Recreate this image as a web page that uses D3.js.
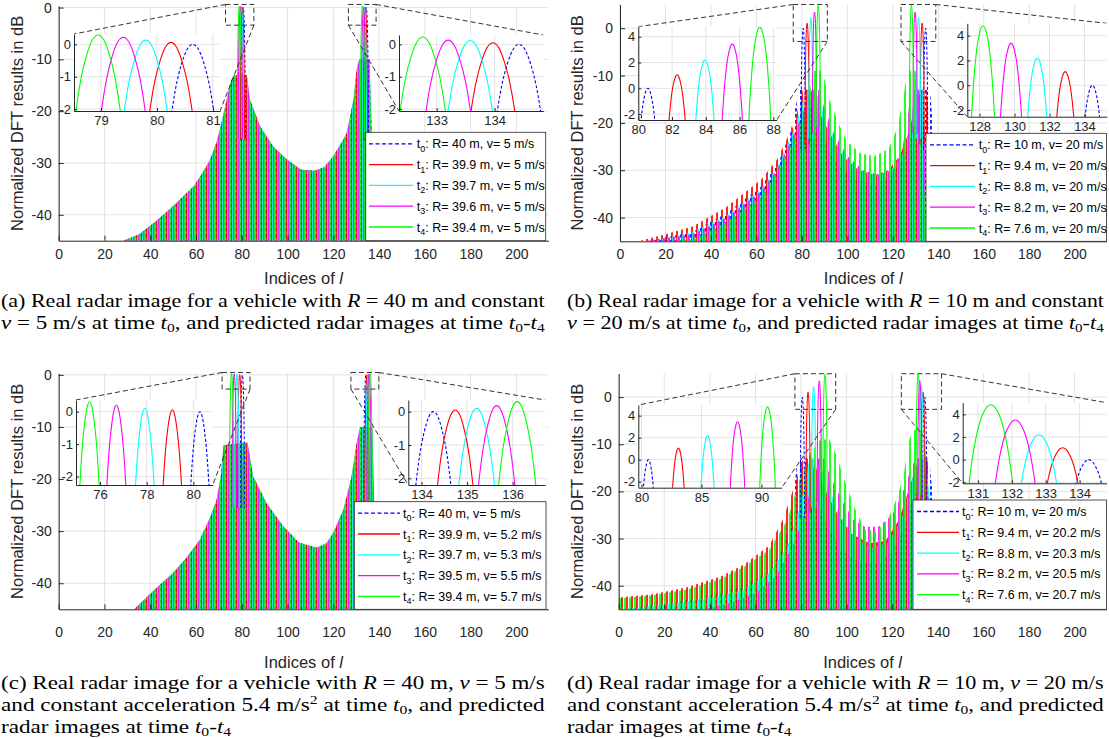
<!DOCTYPE html>
<html>
<head>
<meta charset="utf-8">
<script src="https://cdn.jsdelivr.net/npm/d3@7"></script>
<style>
  body { margin: 0; background: #fff; }
  svg { display: block; }
</style>
</head>
<body>
<svg width="1109" height="739"></svg>
<script>
// ---------- data ----------
const seriesColors = ["#0000ff", "#ff0000", "#00ffff", "#ff00ff", "#00ff00"];
const seriesSub = ["0", "1", "2", "3", "4"];
const xTicks = [0, 20, 40, 60, 80, 100, 120, 140, 160, 180, 200];
const yTicks = [-40, -30, -20, -10, 0];

// shape of one main lobe (index offset, dB below peak)
const lobeOffset = [-0.95, -0.9, -0.8, -0.7, -0.6, -0.5, -0.4, -0.3, -0.2, -0.1, 0, 0.1, 0.2, 0.3, 0.4, 0.5, 0.6, 0.7, 0.8, 0.9, 0.95];
const lobeDrop = [25.6, 19.2, 12.6, 8.7, 5.9, 3.9, 2.4, 1.3, 0.6, 0.15, 0, 0.15, 0.6, 1.3, 2.4, 3.9, 5.9, 8.7, 12.6, 19.2, 25.6];

// (a) R = 40 m, v = 5 m/s
const legendA = ["R= 40 m, v= 5 m/s", "R= 39.9 m, v= 5 m/s", "R= 39.7 m, v= 5 m/s", "R= 39.6 m, v= 5 m/s", "R= 39.4 m, v= 5 m/s"];
const peakLeftA = [80.64, 80.25, 79.8, 79.4, 78.95];
const peakLeftDbA = [0, 0.06, 0.13, 0.22, 0.29];
const peakRightA = [134.42, 133.97, 133.58, 133.2, 132.76];
const peakRightDbA = [0, 0.05, 0.12, 0.13, 0.23];
const bodyA = [[28, -45], [35, -43.8], [40, -42.1], [45, -40.3], [50, -38.3], [55, -36.2], [59, -34.5], [62, -32.5], [66, -29.5], [69, -26], [71, -22.5], [73.4, -17.8], [75, -14.5], [76.5, -13], [82.2, -13], [83.6, -17.8], [88, -22.9], [93.8, -26.8], [99.6, -29.3], [106, -31.3], [112, -31.5], [116, -30.8], [120, -28.7], [123, -26.5], [125.9, -24.2], [128.8, -17.8], [130.2, -12], [131.3, -10], [135.8, -10], [136.5, -20], [137.2, -32], [138, -45]];

// (b) R = 10 m, v = 20 m/s
const legendB = ["R= 10 m, v= 20 m/s", "R= 9.4 m, v= 20 m/s", "R= 8.8 m, v= 20 m/s", "R= 8.2 m, v= 20 m/s", "R= 7.6 m, v= 20 m/s"];
const peakLeftB = [80.57, 82.3, 83.95, 85.57, 87.2];
const peakLeftDbB = [0, 1.05, 2.2, 3.43, 4.75];
const peakRightB = [134.45, 132.9, 131.3, 129.8, 128.2];
const peakRightDbB = [0, 1.1, 2.2, 3.4, 4.8];
const bodyB0 = [[12, -45], [32, -43], [47, -39], [62, -33.5], [70, -28], [75, -22], [77.5, -16], [78.8, -13], [82.4, -13], [85, -18], [90, -24], [96, -29], [104, -32], [112, -33], [120, -31], [126, -26], [130, -20], [132.6, -13], [136.3, -13], [138, -22], [140, -45]];
const bodyB1 = [[8, -45], [20, -43.5], [32, -41.9], [47, -37.7], [62, -32], [69, -27.8], [76, -20.8], [79, -16], [80.5, -13], [84.1, -13], [87, -17], [92, -22], [98, -27], [105, -30], [112, -31], [118, -30], [123, -27], [127, -22], [130, -16], [131.1, -13], [134.7, -13], [136.5, -20], [138, -30], [140, -45]];
const bodyB2 = [[14, -45], [32, -43], [47, -39.5], [62, -34], [69, -29.5], [76, -22], [80, -16], [82.1, -13], [85.8, -13], [89, -17], [93, -22], [99, -27], [106, -30], [113, -31], [119, -30], [124, -27], [127, -22], [129, -16], [129.5, -13], [133.1, -13], [134.8, -20], [137, -30], [139, -45]];
const bodyB3 = [[10, -45], [32, -43.5], [47, -40], [62, -34.5], [69, -30], [77, -22], [82, -16], [83.7, -13], [87.4, -13], [90, -17], [94, -22], [100, -27], [107, -30], [114, -31], [120, -30], [124, -26], [126.5, -19], [128, -13], [131.6, -13], [133.5, -20], [136, -30], [138, -45]];
const bodyB4 = [[22, -45], [32, -44.5], [47, -41], [62, -35.5], [69, -30.5], [76, -24], [81, -18], [84, -12], [85.4, -9], [89, -9], [92, -15], [96, -20], [100, -24], [106, -26.5], [112, -27], [118, -25.5], [122, -21], [124.5, -15], [126.5, -9], [130, -9], [131.5, -15], [133, -25], [135, -45]];

// (c) R = 40 m, v = 5 m/s, a = 5.4 m/s^2
const legendC = ["R= 40 m, v= 5 m/s", "R= 39.9 m, v= 5.2 m/s", "R= 39.7 m, v= 5.3 m/s", "R= 39.5 m, v= 5.5 m/s", "R= 39.4 m, v= 5.7 m/s"];
const peakLeftC = [80.28, 79.1, 77.92, 76.7, 75.55];
const peakLeftDbC = [0, 0.05, 0.1, 0.2, 0.3];
const peakRightC = [134.26, 134.74, 135.21, 135.65, 136.1];
const peakRightDbC = [0, 0.05, 0.1, 0.18, 0.3];
const bodyC = [[33, -45], [40, -42], [45, -40], [50, -38], [56, -35], [61.7, -31.6], [66, -27.5], [69, -24], [71, -19], [72, -13.5], [82.5, -13], [85, -19.5], [90.8, -24.6], [98, -29], [105, -32.2], [112.7, -33.2], [117, -32.3], [120, -30.3], [124.4, -25.9], [128, -19.5], [130.2, -13.1], [131.7, -10], [137, -10], [137.6, -20], [138.5, -35], [139.5, -45]];

// (d) R = 10 m, v = 20 m/s, a = 5.4 m/s^2
const legendD = ["R= 10 m, v= 20 m/s", "R= 9.4 m, v= 20.2 m/s", "R= 8.8 m, v= 20.3 m/s", "R= 8.2 m, v= 20.5 m/s", "R= 7.6 m, v= 20.7 m/s"];
const peakLeftD = [80.57, 83.07, 85.5, 88.0, 90.5];
const peakLeftDbD = [0, 1.05, 2.2, 3.45, 4.8];
const peakRightD = [134.27, 133.5, 132.8, 132.1, 131.38];
const peakRightDbD = [0, 1.05, 2.2, 3.5, 4.85];
const bodyD0 = [[0, -45], [20, -44], [40, -42], [55, -40], [66, -37], [72, -32], [76, -24], [78, -15], [78.7, -13], [82.5, -13], [85, -19], [90, -26], [97, -32], [105, -35], [113, -35.5], [120, -33], [126, -27], [130, -20], [132.4, -13], [136.2, -13], [138, -22], [140, -45]];
const bodyD1 = [[0, -42.5], [15, -41.8], [30, -40.3], [45, -38], [55, -35.5], [66, -31.5], [72, -26], [77, -19], [80, -14], [81.2, -13], [85, -13], [89, -18], [95, -24], [102, -29], [110, -31], [117, -30.5], [123, -26], [127, -20], [131, -14], [131.6, -13], [135.4, -13], [137, -20], [139, -45]];
const bodyD2 = [[0, -45], [15, -44.3], [35, -43], [54, -41], [66, -37.3], [74, -31.7], [79, -24], [82, -18], [83.6, -13], [87.4, -13], [91, -18], [97, -25], [104, -30], [111, -32], [118, -31], [124, -26], [128, -19], [130.9, -13], [134.7, -13], [136.5, -22], [138.5, -45]];
const bodyD3 = [[38, -45], [50, -43.5], [60, -41.6], [69, -38], [76, -32], [80, -27], [84, -20], [86.1, -13], [89.9, -13], [93, -17], [98, -22], [103, -26], [108, -27.5], [114, -27.5], [120, -25], [124, -21], [127, -17], [130.2, -13], [134, -13], [136, -22], [138, -45]];
const bodyD4 = [[0, -42.7], [15, -42], [30, -40.8], [45, -38.5], [55, -36], [66, -32.4], [74, -26], [79, -18], [84, -12], [88.5, -9], [92.5, -9], [96, -13], [100, -19], [104, -24], [108, -28], [113, -28.5], [118, -26], [122, -21.5], [125, -16.5], [127.5, -9], [129, -7], [133.5, -7], [135, -14], [137, -25], [139, -45]];

// inset tick labels
const insetXTicksA = [[79, 80, 81], [133, 134]];
const insetXTicksB = [[80, 82, 84, 86, 88], [128, 130, 132, 134]];
const insetXTicksC = [[76, 78, 80], [134, 135, 136]];
const insetXTicksD = [[80, 85, 90], [131, 132, 133, 134]];
const insetYTicksSmall = [-2, -1, 0];
const insetYTicksLarge = [-2, 0, 2, 4];

const captionA = ["(a) Real radar image for a vehicle with *R* = 40 m and constant",
                  "*v* = 5 m/s at time *t*_0, and predicted radar images at time *t*_0-*t*_4"];
const captionB = ["(b) Real radar image for a vehicle with *R* = 10 m and constant",
                  "*v* = 20 m/s at time *t*_0, and predicted radar images at time *t*_0-*t*_4"];
const captionC = ["(c) Real radar image for a vehicle with *R* = 40 m, *v* = 5 m/s",
                  "and constant acceleration 5.4 m/s^2 at time *t*_0, and predicted",
                  "radar images at time *t*_0-*t*_4"];
const captionD = ["(d) Real radar image for a vehicle with *R* = 10 m, *v* = 20 m/s",
                  "and constant acceleration 5.4 m/s^2 at time *t*_0, and predicted",
                  "radar images at time *t*_0-*t*_4"];

// ---------- layout ----------
const panels = [
  { id: "a", left: 58.7, right: 548.4, top: 6, bottom: 240.7, yDomain: [-45, 0.3], tickPad: 8, xLabelY: 284, yLabelX: 17,
    legend: legendA, bodies: [bodyA, bodyA, bodyA, bodyA, bodyA],
    peaksL: peakLeftA, peaksLDb: peakLeftDbA, peaksR: peakRightA, peaksRDb: peakRightDbA,
    insetL: { box: [74, 34, 220, 111], xDomain: [78.52, 81.125], yDomain: [-2.06, 0.32], xTicks: insetXTicksA[0], yTicks: insetYTicksSmall },
    insetR: { box: [399, 35, 543.3, 111], xDomain: [132.35, 134.84], yDomain: [-2.06, 0.29], xTicks: insetXTicksA[1], yTicks: insetYTicksSmall },
    zoomL: [72.9, 85.3, -3.4, 0.6], zoomR: [126.6, 138.7, -3.4, 0.6],
    legendBox: [365.7, 132.3, 545.7, 240.7], legendLine: [369, 413], legendText: 416.7,
    caption: captionA, captionX: [1, 545], captionY: 306.5 },
  { id: "b", left: 620, right: 1106.5, top: 4.5, bottom: 241.3, yDomain: [-45, 5], tickPad: 8, xLabelY: 284, yLabelX: 577,
    legend: legendB, bodies: [bodyB0, bodyB1, bodyB2, bodyB3, bodyB4],
    peaksL: peakLeftB, peaksLDb: peakLeftDbB, peaksR: peakRightB, peaksRDb: peakRightDbB,
    insetL: { box: [638.3, 26.7, 776.7, 120], xDomain: [80, 88.2], yDomain: [-2.46, 4.78], xTicks: insetXTicksB[0], yTicks: insetYTicksLarge },
    insetR: { box: [967.3, 23.3, 1106.7, 116.7], xDomain: [127.3, 135.27], yDomain: [-2.54, 5.0], xTicks: insetXTicksB[1], yTicks: insetYTicksLarge },
    zoomL: [76.2, 91.2, -2.8, 5], zoomR: [123.6, 138.9, -2.8, 5],
    legendBox: [926, 133.3, 1106.5, 241.3], legendLine: [930, 975], legendText: 978.7,
    caption: captionB, captionX: [567, 1104], captionY: 306.5 },
  { id: "c", left: 58.7, right: 548.4, top: 373.3, bottom: 609.3, yDomain: [-45, 0.3], tickPad: 18, xLabelY: 668, yLabelX: 17,
    legend: legendC, bodies: [bodyC, bodyC, bodyC, bodyC, bodyC],
    peaksL: peakLeftC, peaksLDb: peakLeftDbC, peaksR: peakRightC, peaksRDb: peakRightDbC,
    insetL: { box: [76, 400, 212.7, 485], xDomain: [74.97, 80.83], yDomain: [-2.26, 0.36], xTicks: insetXTicksC[0], yTicks: insetYTicksSmall },
    insetR: { box: [408.3, 400, 545, 485], xDomain: [133.71, 136.71], yDomain: [-2.2, 0.35], xTicks: insetXTicksC[1], yTicks: insetYTicksSmall },
    zoomL: [71.4, 83.6, -2.73, 0.46], zoomR: [127.7, 139.9, -2.73, 0.46],
    legendBox: [354.3, 501.7, 546, 609.3], legendLine: [358, 400], legendText: 403,
    caption: captionC, captionX: [1, 545], captionY: 688.5 },
  { id: "d", left: 618.7, right: 1106.5, top: 373.5, bottom: 609.3, yDomain: [-45, 5], tickPad: 18, xLabelY: 668, yLabelX: 577,
    legend: legendD, bodies: [bodyD0, bodyD1, bodyD2, bodyD3, bodyD4],
    peaksL: peakLeftD, peaksLDb: peakLeftDbD, peaksR: peakRightD, peaksRDb: peakRightDbD,
    insetL: { box: [638.3, 405, 781.7, 487.7], xDomain: [79.73, 91.68], yDomain: [-2.55, 4.97], xTicks: insetXTicksD[0], yTicks: insetYTicksLarge },
    insetR: { box: [962.7, 402.7, 1106.7, 483.3], xDomain: [130.55, 134.8], yDomain: [-2.09, 5.03], xTicks: insetXTicksD[1], yTicks: insetYTicksLarge },
    zoomL: [77.3, 95.2, -2.6, 4.95], zoomR: [124, 141.6, -2.6, 4.95],
    legendBox: [913, 500, 1106.5, 609.3], legendLine: [917, 959], legendText: 962,
    caption: captionD, captionX: [567, 1104], captionY: 688.5 }
];

const axisColor = "#262626";
const gridColor = "#e3e3e3";
const sansFont = "'Liberation Sans', Arial, Helvetica, sans-serif";
const serifFont = "'Liberation Serif', 'Times New Roman', serif";

const svg = d3.select("svg");
const defs = svg.append("defs");

// vertical stripe fills standing in for the dense side-lobe combs;
// each series gets a 2 px column in a 5 px tile, later series overlap earlier ones
const stripePeriod = 5;
seriesColors.forEach((c, i) => {
  const p = defs.append("pattern").attr("id", "stripe" + i)
    .attr("patternUnits", "userSpaceOnUse").attr("width", stripePeriod).attr("height", 6);
  const h = i === 0 ? 3.5 : 6;
  p.append("rect").attr("x", i).attr("y", 0).attr("width", Math.min(2, stripePeriod - i)).attr("height", h)
    .attr("fill", c).attr("fill-opacity", 0.85);
  if (i + 2 > stripePeriod) p.append("rect").attr("x", 0).attr("y", 0).attr("width", i + 2 - stripePeriod).attr("height", h)
    .attr("fill", c).attr("fill-opacity", 0.85);
});

function styleAxis(g, size) {
  g.select(".domain").attr("stroke", axisColor);
  g.selectAll(".tick line").attr("stroke", axisColor);
  g.selectAll(".tick text").attr("fill", axisColor).attr("font-size", size).attr("font-family", sansFont);
}

function drawLobes(g, line, peaks, dbs, width) {
  peaks.forEach((p, i) => {
    const pts = lobeOffset.map((o, k) => [p + o, dbs[i] - lobeDrop[k]]);
    g.append("path").attr("d", line(pts))
      .attr("fill", "none").attr("stroke", seriesColors[i]).attr("stroke-width", width)
      .attr("stroke-dasharray", i === 0 ? "3,2" : null);
  });
}

function drawInset(ins, peaks, dbs, name) {
  const [x0, y0, x1, y1] = ins.box;
  const xi = d3.scaleLinear().domain(ins.xDomain).range([x0, x1]);
  const yi = d3.scaleLinear().domain(ins.yDomain).range([y1, y0]);
  const g = svg.append("g");
  g.append("rect").attr("x", x0).attr("y", y0).attr("width", x1 - x0).attr("height", y1 - y0).attr("fill", "#fff");
  g.selectAll(".gx").data(ins.xTicks).join("line")
    .attr("x1", d => xi(d)).attr("x2", d => xi(d)).attr("y1", y0).attr("y2", y1).attr("stroke", gridColor);
  g.selectAll(".gy").data(ins.yTicks).join("line")
    .attr("x1", x0).attr("x2", x1).attr("y1", d => yi(d)).attr("y2", d => yi(d)).attr("stroke", gridColor);
  const clip = "clip-" + name;
  defs.append("clipPath").attr("id", clip).append("rect")
    .attr("x", x0).attr("y", y0).attr("width", x1 - x0).attr("height", y1 - y0);
  const line = d3.line().x(d => xi(d[0])).y(d => yi(d[1])).curve(d3.curveMonotoneX);
  drawLobes(g.append("g").attr("clip-path", `url(#${clip})`), line, peaks, dbs, 1.1);
  const ax = g.append("g").attr("transform", `translate(0,${y1})`)
    .call(d3.axisBottom(xi).tickValues(ins.xTicks).tickFormat(d => String(d)).tickSizeInner(-3).tickSizeOuter(0).tickPadding(5));
  styleAxis(ax, 13);
  const ay = g.append("g").attr("transform", `translate(${x0},0)`)
    .call(d3.axisLeft(yi).tickValues(ins.yTicks).tickFormat(d => String(d)).tickSizeInner(-3).tickSizeOuter(0).tickPadding(3));
  styleAxis(ay, 13);
}

function drawPanel(cfg) {
  const x = d3.scaleLinear().domain([0, 214]).range([cfg.left, cfg.right]);
  const y = d3.scaleLinear().domain(cfg.yDomain).range([cfg.bottom, cfg.top]);
  const g = svg.append("g");

  // grid
  g.selectAll(".gx").data(xTicks).join("line")
    .attr("x1", d => x(d)).attr("x2", d => x(d)).attr("y1", cfg.top).attr("y2", cfg.bottom).attr("stroke", gridColor);
  g.selectAll(".gy").data(yTicks).join("line")
    .attr("x1", cfg.left).attr("x2", cfg.right).attr("y1", d => y(d)).attr("y2", d => y(d)).attr("stroke", gridColor);

  // spectra
  const clip = "clip-" + cfg.id;
  defs.append("clipPath").attr("id", clip).append("rect")
    .attr("x", cfg.left).attr("y", cfg.top).attr("width", cfg.right - cfg.left).attr("height", cfg.bottom - cfg.top);
  const plot = g.append("g").attr("clip-path", `url(#${clip})`);
  const area = d3.area().x(d => x(d[0])).y0(y(-45)).y1(d => y(d[1]));
  cfg.bodies.forEach((b, i) => plot.append("path").attr("d", area(b)).attr("fill", `url(#stripe${i})`));
  const line = d3.line().x(d => x(d[0])).y(d => y(d[1]));
  drawLobes(plot, line, cfg.peaksL, cfg.peaksLDb, 1);
  drawLobes(plot, line, cfg.peaksR, cfg.peaksRDb, 1);

  // axes
  const ax = g.append("g").attr("transform", `translate(0,${cfg.bottom})`)
    .call(d3.axisBottom(x).tickValues(xTicks).tickFormat(d => String(d)).tickSizeInner(-5).tickSizeOuter(0).tickPadding(cfg.tickPad));
  styleAxis(ax, 14);
  const ay = g.append("g").attr("transform", `translate(${cfg.left},0)`)
    .call(d3.axisLeft(y).tickValues(yTicks).tickFormat(d => String(d)).tickSizeInner(-5).tickSizeOuter(0).tickPadding(7));
  styleAxis(ay, 14);

  const xl = svg.append("text").attr("x", (cfg.left + cfg.right) / 2).attr("y", cfg.xLabelY)
    .attr("text-anchor", "middle").attr("font-family", sansFont).attr("font-size", 16.5).attr("fill", axisColor);
  xl.append("tspan").text("Indices of ");
  xl.append("tspan").attr("font-style", "italic").text("l");
  svg.append("text").attr("transform", `translate(${cfg.yLabelX},${(cfg.top + cfg.bottom) / 2}) rotate(-90)`)
    .attr("dy", "0.35em").attr("text-anchor", "middle").attr("font-family", sansFont).attr("font-size", 16.5)
    .attr("fill", axisColor).text("Normalized DFT results in dB");

  // zoom boxes and connectors
  const dash = "5,3";
  [[cfg.zoomL, cfg.insetL, true], [cfg.zoomR, cfg.insetR, false]].forEach(([z, ins, isLeft]) => {
    const [zx0, zx1, zy0, zy1] = z;
    svg.append("rect").attr("x", x(zx0)).attr("y", y(zy1)).attr("width", x(zx1) - x(zx0)).attr("height", y(zy0) - y(zy1))
      .attr("fill", "none").attr("stroke", "#333").attr("stroke-dasharray", dash);
    const [bx0, by0, bx1, by1] = ins.box;
    const links = isLeft
      ? [[x(zx0), y(zy1), bx0, by0], [x(zx1), y(zy0), bx1, by1]]
      : [[x(zx1), y(zy1), bx1, by0], [x(zx0), y(zy0), bx0, by1]];
    links.forEach(l => svg.append("line").attr("x1", l[0]).attr("y1", l[1]).attr("x2", l[2]).attr("y2", l[3])
      .attr("stroke", "#333").attr("stroke-dasharray", dash));
  });

  drawInset(cfg.insetL, cfg.peaksL, cfg.peaksLDb, cfg.id + "L");
  drawInset(cfg.insetR, cfg.peaksR, cfg.peaksRDb, cfg.id + "R");

  // legend
  const [lx0, ly0, lx1, ly1] = cfg.legendBox;
  svg.append("rect").attr("x", lx0).attr("y", ly0).attr("width", lx1 - lx0).attr("height", ly1 - ly0)
    .attr("fill", "#fff").attr("stroke", axisColor).attr("stroke-width", 0.8);
  cfg.legend.forEach((lab, i) => {
    const ry = ly0 + 11.5 + i * 20.8;
    svg.append("line").attr("x1", cfg.legendLine[0]).attr("x2", cfg.legendLine[1]).attr("y1", ry).attr("y2", ry)
      .attr("stroke", seriesColors[i]).attr("stroke-width", 1.3).attr("stroke-dasharray", i === 0 ? "4,2.5" : null);
    const t = svg.append("text").attr("x", cfg.legendText).attr("y", ry + 4.5)
      .attr("font-family", sansFont).attr("font-size", 12.5).attr("fill", "#000");
    t.append("tspan").text("t");
    t.append("tspan").attr("dy", 3.5).attr("font-size", 9).text(seriesSub[i]);
    t.append("tspan").attr("dy", -3.5).text(": " + lab);
  });

  drawCaption(cfg.caption, cfg.captionX, cfg.captionY);
}

// caption: *x* italic, _x subscript, ^x superscript
function drawCaption(lines, xr, y0) {
  const width = xr[1] - xr[0];
  const made = lines.map(str => {
    const t = svg.append("text").attr("font-family", serifFont).attr("font-size", 18.5).attr("fill", "#000");
    let cur = 0;
    str.split(/(\*[^*]+\*|_\w|\^\w)/).filter(s => s.length).forEach(p => {
      let target = 0, ts;
      if (p[0] === "*") ts = t.append("tspan").attr("font-style", "italic").text(p.slice(1, -1));
      else if (p[0] === "_") { target = 3; ts = t.append("tspan").attr("font-size", 12.5).text(p.slice(1)); }
      else if (p[0] === "^") { target = -7; ts = t.append("tspan").attr("font-size", 12.5).text(p.slice(1)); }
      else ts = t.append("tspan").text(p);
      if (target !== cur) ts.attr("dy", target - cur);
      cur = target;
    });
    return t;
  });
  const natural = made.map(t => t.node().getComputedTextLength());
  const fullLines = lines.length === 3 ? 2 : lines.length;
  const sxs = natural.slice(0, fullLines).map(w => width / w);
  const avg = d3.mean(sxs);
  made.forEach((t, i) => {
    const sx = i < fullLines ? sxs[i] : avg;
    t.attr("transform", `translate(${xr[0]},${y0 + i * 22.3}) scale(${sx},1)`);
  });
}

panels.forEach(drawPanel);
</script>
</body>
</html>
